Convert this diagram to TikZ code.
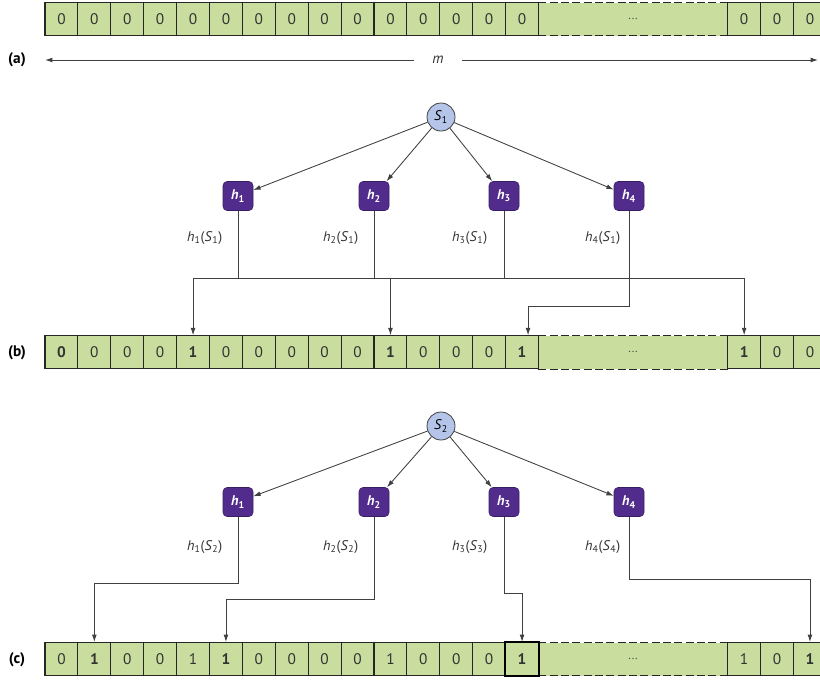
\documentclass[tikz,border=0pt]{standalone}
\usepackage{fontspec}
\setmainfont{PT Sans}
\usepackage{xcolor}
\usepackage{tikz}
\usetikzlibrary{arrows.meta,calc}

\definecolor{cellGreen}{HTML}{C9DE9E}
\definecolor{hashPurple}{HTML}{522C8C}
\definecolor{setBlue}{HTML}{B5C4E9}
\definecolor{wireGray}{HTML}{404040}

\newcommand{\hval}[2]{\textit{h}\textsubscript{#1}(\textit{S}\textsubscript{#2})}

\tikzstyle{tsCell} = [ 
    rectangle,
    draw=black!85,
    fill=cellGreen,
    line width=0.8pt,
    minimum width=24.7pt,
    minimum height=24.75pt,
    inner sep=0pt,
    text=black!80,
    font=\fontsize{11.5}{13}\selectfont
]
\tikzstyle{tsDots} = [ 
    rectangle,
    fill=cellGreen,
    minimum width=141.9pt,
    minimum height=24.75pt,
    inner sep=0pt,
    text=black!70,
    font=\fontsize{9}{10}\selectfont
]
\tikzstyle{tsDash} = [ 
    draw=black!85,
    line width=0.8pt,
    dash pattern=on 6pt off 2.5pt
]
\tikzstyle{tsHash} = [ 
    rectangle,
    rounded corners=3pt,
    fill=hashPurple,
    draw=hashPurple!70!black,
    minimum width=22.5pt,
    minimum height=21.75pt,
    inner sep=0pt,
    text=white,
    font=\bfseries\fontsize{10.5}{12}\selectfont
]
\tikzstyle{tsSet} = [ 
    circle,
    draw=black!75,
    fill=setBlue,
    line width=0.6pt,
    minimum size=21pt,
    inner sep=0pt,
    font=\fontsize{10.5}{12}\selectfont
]
\tikzstyle{tsLabel} = [ 
    text=black!80,
    font=\fontsize{10.5}{12}\selectfont
]
\tikzstyle{tsPart} = [ 
    text=black,
    font=\bfseries\fontsize{11.5}{13}\selectfont
]
\tikzstyle{tsWire} = [ 
    draw=wireGray,
    line width=0.65pt
]
\tikzstyle{tsArrow} = [ 
    tsWire,
    -{Latex[length=5.5pt,width=3.6pt]}
]

\begin{document}
\begin{tikzpicture}[x=0.75pt, y=-0.75pt]

    \useasboundingbox (0,0) rectangle (820,679);

    % (a) empty filter
    \node[tsDots] (adots) at (633.1,19) {...};
    \draw[tsDash] (adots.north west) -- (adots.north east)
                  (adots.south west) -- (adots.south east);
    \foreach \v [count=\i] in {0,0,0,0,0,0,0,0,0,0,0,0,0,0,0}
        \node[tsCell] (a\i) at ({45+(\i-0.5)*32.9},19) {\v};
    \foreach \v [count=\i from 16] in {0,0,0}
        \node[tsCell] (a\i) at ({727.7+(\i-15.5)*32.9},19) {\v};

    \node[tsPart] (parta) at (17,60) {(a)};
    \node[	tsLabel,
            minimum width=35pt,
            font=\itshape\fontsize{11}{12}\selectfont] (mlen) at (438,60) {m};
    \coordinate (aleft) at (45,60);
    \coordinate (aright) at (818,60);
    \draw[tsArrow] (mlen) -- (aleft);
    \draw[tsArrow] (mlen) -- (aright);

    % (b) insert S1
    \node[tsSet] (s1) at (441,117) {\textit{S}\textsubscript{1}};
    \foreach \n/\x/\g in {1/238/11, 2/374/11, 3/504/12, 4/629/4} {
        \node[tsHash] (bh\n) at (\x,196) {\textit{h}\textsubscript{\n}};
        \draw[tsArrow] (s1) -- (bh\n);
        \node[tsLabel, anchor=east] (bl\n) at (\x-\g,238) {\hval{\n}{1}};
    }

    \node[tsDots] (bdots) at (633.1,352.3) {...};
    \draw[tsDash] (bdots.north west) -- (bdots.north east)
                  (bdots.south west) -- (bdots.south east);
    \foreach \v [count=\i] in {\textbf{0},0,0,0,\textbf{1},0,0,0,0,0,\textbf{1},0,0,0,\textbf{1}}
        \node[tsCell] (b\i) at ({45+(\i-0.5)*32.9},352.3) {\v};
    \foreach \v [count=\i from 16] in {\textbf{1},0,0}
        \node[tsCell] (b\i) at ({727.7+(\i-15.5)*32.9},352.3) {\v};
    \node[tsPart] (partb) at (17,353) {(b)};

    \coordinate (busb) at (0,278);
    \draw[tsWire] (b5.north |- busb) -- (b16.north |- busb);
    \foreach \h in {bh1,bh2,bh3}
        \draw[tsWire] (\h.south) -- (\h.south |- busb);
    \foreach \c in {b5,b11,b16}
        \draw[tsArrow] (\c.north |- busb) -- (\c.north);
    \draw[tsArrow] (bh4.south) -- (bh4.south |- 0,306) -| ([xshift=4.5pt]b15.north);

    % (c) insert S2
    \node[tsSet] (s2) at (441,426) {\textit{S}\textsubscript{2}};
    \foreach \n/\x/\g/\s in {1/238/11/2, 2/374/11/2, 3/504/12/3, 4/629/4/4} {
        \node[tsHash] (ch\n) at (\x,502) {\textit{h}\textsubscript{\n}};
        \draw[tsArrow] (s2) -- (ch\n);
        \node[tsLabel, anchor=east] (cl\n) at (\x-\g,547) {\hval{\n}{\s}};
    }

    \node[tsDots] (cdots) at (633.1,659) {...};
    \draw[tsDash] (cdots.north west) -- (cdots.north east)
                  (cdots.south west) -- (cdots.south east);
    \foreach \v [count=\i] in {0,\textbf{1},0,0,1,\textbf{1},0,0,0,0,1,0,0,0,\textbf{1}}
        \node[tsCell] (c\i) at ({45+(\i-0.5)*32.9},659) {\v};
    \foreach \v [count=\i from 16] in {1,0,\textbf{1}}
        \node[tsCell] (c\i) at ({727.7+(\i-15.5)*32.9},659) {\v};
    \node[tsPart] (partc) at (17,660) {(c)};

    \draw[tsArrow] (ch1.south) -- (ch1.south |- 0,583) -| (c2.north);
    \draw[tsArrow] (ch2.south) -- (ch2.south |- 0,599) -| (c6.north);
    \draw[tsArrow] (ch3.south) -- (ch3.south |- 0,593) -| (c15.north);
    \draw[tsArrow] (ch4.south) -- (ch4.south |- 0,579) -| (c18.north);
    \draw[line width=2pt] (c15.south west) rectangle (c15.north east);

\end{tikzpicture}
\end{document}
